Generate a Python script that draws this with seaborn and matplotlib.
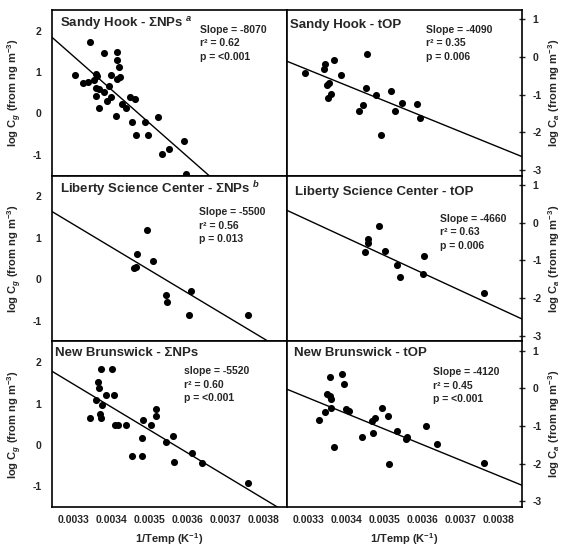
import numpy as np
import pandas as pd
import matplotlib
matplotlib.use("Agg")
import matplotlib.pyplot as plt
import seaborn as sns

sns.set_style("white")
plt.rcParams['font.family'] = ['Liberation Sans', 'DejaVu Sans']
plt.rcParams['mathtext.fontset'] = 'custom'
plt.rcParams['mathtext.rm'] = 'Liberation Sans:bold'
plt.rcParams['mathtext.it'] = 'Liberation Sans:bold:italic'
plt.rcParams['mathtext.bf'] = 'Liberation Sans:bold'
plt.rcParams['axes.unicode_minus'] = False

# ---- data (1/T in K^-1, log concentration) ----
sh_np_x = [0.003343, 0.003303, 0.003326, 0.003339, 0.003354, 0.003360, 0.003362, 0.003359,
           0.003367, 0.003358, 0.003367, 0.003380, 0.003381, 0.003393, 0.003398, 0.003398,
           0.003389, 0.003413, 0.003415, 0.003419, 0.003413, 0.003423, 0.003411, 0.003428,
           0.003439, 0.003448, 0.003461, 0.003453, 0.003463, 0.003488, 0.003497, 0.003523,
           0.003534, 0.003552, 0.003590, 0.003597]
sh_np_y = [1.73, 0.94, 0.73, 0.75, 0.80, 0.96, 0.90, 0.62,
           0.59, 0.42, 0.13, 1.46, 0.51, 0.66, 0.94, 0.39,
           0.30, 1.48, 1.29, 1.13, 0.84, 0.89, -0.07, 0.22,
           0.14, 0.39, 0.34, -0.21, -0.53, -0.21, -0.53, -0.09,
           -0.97, -0.85, -0.67, -1.45]

sh_op_x = [0.003290, 0.003340, 0.003344, 0.003367, 0.003349, 0.003353, 0.003358, 0.003351,
           0.003385, 0.003454, 0.003452, 0.003478, 0.003443, 0.003432, 0.003518, 0.003527,
           0.003547, 0.003490, 0.003586, 0.003594]
sh_op_y = [-0.43, -0.32, -0.18, -0.07, -0.74, -0.70, -0.97, -1.08,
           -0.47, 0.07, -0.83, -1.02, -1.28, -1.44, -0.90, -1.44,
           -1.22, -2.07, -1.24, -1.62]

lsc_np_x = [0.003494, 0.003466, 0.003459, 0.003464, 0.003510, 0.003542, 0.003545, 0.003609,
            0.003603, 0.003758]
lsc_np_y = [1.18, 0.60, 0.26, 0.30, 0.44, -0.38, -0.54, -0.29, -0.86, -0.86]

lsc_op_x = [0.003484, 0.003455, 0.003455, 0.003448, 0.003500, 0.003533, 0.003540, 0.003605,
            0.003601, 0.003761]
lsc_op_y = [-0.09, -0.42, -0.53, -0.79, -0.75, -1.13, -1.45, -0.88, -1.37, -1.87]

nb_np_x = [0.003371, 0.003400, 0.003363, 0.003367, 0.003384, 0.003406, 0.003359, 0.003375,
           0.003343, 0.003369, 0.003371, 0.003409, 0.003418, 0.003437, 0.003483, 0.003503,
           0.003518, 0.003516, 0.003479, 0.003454, 0.003479, 0.003542, 0.003562, 0.003565,
           0.003612, 0.003639, 0.003760]
nb_np_y = [1.83, 1.84, 1.52, 1.38, 1.21, 1.21, 1.09, 0.97,
           0.65, 0.75, 0.64, 0.47, 0.47, 0.47, 0.61, 0.47,
           0.87, 0.69, 0.17, -0.26, -0.26, 0.08, 0.21, -0.40,
           -0.20, -0.44, -0.91]

nb_op_x = [0.003389, 0.003356, 0.003394, 0.003349, 0.003356, 0.003360, 0.003358, 0.003344,
           0.003398, 0.003405, 0.003326, 0.003368, 0.003493, 0.003509, 0.003475, 0.003468,
           0.003470, 0.003441, 0.003533, 0.003556, 0.003560, 0.003610, 0.003637, 0.003511,
           0.003763]
nb_op_y = [0.39, 0.30, 0.12, -0.15, -0.21, -0.27, -0.51, -0.63,
           -0.54, -0.60, -0.85, -1.56, -0.51, -0.72, -0.78, -0.87,
           -1.17, -1.28, -1.14, -1.35, -1.29, -0.99, -1.47, -2.01,
           -1.98]

titles = [r"Sandy Hook - ΣNPs $^{a}$", "Sandy Hook - tOP",
          r"Liberty Science Center - ΣNPs $^{b}$", "Liberty Science Center - tOP",
          "New Brunswick - ΣNPs", "New Brunswick - tOP"]
slope_words = ["Slope", "Slope", "Slope", "Slope", "slope", "Slope"]
slopes = [-8070, -4090, -5500, -4660, -5520, -4120]
intercepts = [28.01, 13.15, 19.47, 15.44, 19.68, 13.34]
r2 = ["0.62", "0.35", "0.56", "0.63", "0.60", "0.45"]
pvals = ["<0.001", "0.006", "0.013", "0.006", "<0.001", "<0.001"]

xs = [sh_np_x, sh_op_x, lsc_np_x, lsc_op_x, nb_np_x, nb_op_x]
ys = [sh_np_y, sh_op_y, lsc_np_y, lsc_op_y, nb_np_y, nb_op_y]

x_ticks = [0.0033, 0.0034, 0.0035, 0.0036, 0.0037, 0.0038]
left_yticks = [-1, 0, 1, 2]
right_yticks = [-3, -2, -1, 0, 1]

title_pos = [(0.034, 0.916), (0.013, 0.91), (0.034, 0.92), (0.034, 0.90), (0.013, 0.927), (0.03, 0.927)]
stats_pos = [(0.63, 0.91), (0.59, 0.91), (0.627, 0.81), (0.65, 0.77), (0.56, 0.85), (0.62, 0.845)]

fig, axes = plt.subplots(3, 2, figsize=(5.65, 5.5), dpi=100, sharex=True)
fig.subplots_adjust(left=0.092, right=0.924, top=0.982, bottom=0.078, wspace=0, hspace=0)

xlim = (0.003243, 0.003862)
for i, ax in enumerate(axes.flat):
    df = pd.DataFrame({"x": xs[i], "y": ys[i]})
    sns.scatterplot(data=df, x="x", y="y", ax=ax, color="black", s=26,
                    edgecolor="black", linewidth=0, zorder=3)
    lx = np.array(xlim)
    ly = slopes[i] * lx + intercepts[i]
    ax.plot(lx, ly, color="black", lw=1.0, zorder=2)
    ax.set_xlim(*xlim)
    col = i % 2
    if col == 0:
        ax.set_ylim(-1.5, 2.5)
        ax.set_yticks(left_yticks)
        ax.set_ylabel(r"log C$_{g}$ (from ng m$^{-3}$)", fontsize=8, fontweight="bold", labelpad=6)
    else:
        ax.set_ylim(-3.15, 1.25)
        ax.set_yticks(right_yticks)
        ax.yaxis.tick_right()
        ax.yaxis.set_label_position("right")
        ax.set_ylabel(r"log C$_{a}$ (from ng m$^{-3}$)", fontsize=8, fontweight="bold", labelpad=3,
                      rotation=90)
    ax.set_xticks(x_ticks)
    ax.set_xticklabels([f"{t:.4f}" for t in x_ticks])
    ax.tick_params(axis="both", which="both", direction="inout", length=5, width=1,
                   labelsize=7.5, pad=3)
    ax.tick_params(axis="y", pad=5)
    for lab in ax.get_xticklabels() + ax.get_yticklabels():
        lab.set_fontweight("bold")
    for sp in ax.spines.values():
        sp.set_linewidth(1.2)
        sp.set_color("black")
    if i >= 4:
        ax.set_xlabel(r"1/Temp (K$^{-1}$)", fontsize=8, fontweight="bold", labelpad=5)
    else:
        ax.set_xlabel("")
    tx, ty = title_pos[i]
    ax.text(tx, ty, titles[i], transform=ax.transAxes, fontsize=9.5, fontweight="bold",
            ha="left", va="center")
    sx, sy = stats_pos[i]
    stats = f"{slope_words[i]} = {slopes[i]}\nr² = {r2[i]}\np = {pvals[i]}"
    ax.text(sx, sy, stats, transform=ax.transAxes, fontsize=7.5, fontweight="bold",
            ha="left", va="top", linespacing=1.45)

fig.savefig("out.png", dpi=100)
